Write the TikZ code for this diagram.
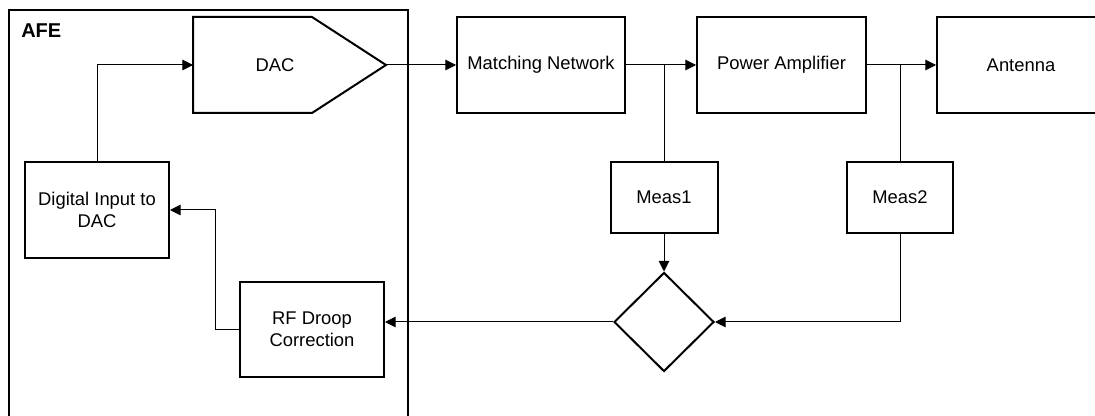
\documentclass[tikz,border=0pt]{standalone}
\usepackage{fontspec}
\setmainfont{Liberation Sans}
\usetikzlibrary{arrows.meta,shapes.geometric}

\begin{document}
\begin{tikzpicture}[
  x=0.75pt, y=-0.75pt,
  blk/.style={draw, line width=1.5pt, inner sep=0pt, align=center,
              font=\fontsize{13.8}{16.5}\selectfont},
  conn/.style={line width=0.75pt, -{Triangle[length=8pt,width=8pt]}},
  wire/.style={line width=0.75pt},
  lbl/.style={inner sep=0pt, font=\fontsize{13.8}{16.5}\selectfont}
]
\path[use as bounding box, clip] (0,0) rectangle (1095,416);

% AFE enclosure (open at the bottom edge)
\draw[line width=1.5pt] (9,430) -- (9,10) -- (408,10) -- (408,430);
\node[anchor=base west, inner sep=0pt, font=\fontsize{15}{18}\selectfont\bfseries]
  (afe) at (21,38) {AFE};

% DAC pentagon
\draw[line width=1.5pt, line join=miter]
  (193,17) -- (312,17) -- (386,65) -- (312,113) -- (193,113) -- cycle;
\node[lbl] (dac) at (275,65) {DAC};
\coordinate (dacin) at (193,65);
\coordinate (dacout) at (386,65);

% blocks
\node[blk, minimum width=108pt, minimum height=72pt] (digin) at (97,210)
  {Digital Input to\\DAC};
\node[blk, minimum width=108pt, minimum height=71.25pt] (rfd) at (312,329.5)
  {RF Droop\\Correction};
\node[blk, minimum width=126pt, minimum height=72pt] (match) at (541,65)
  {Matching Network};
\node[blk, minimum width=126.75pt, minimum height=72pt] (pa) at (781.5,65)
  {Power Amplifier};
\node[blk, minimum width=126pt, minimum height=72pt] (ant) at (1021,65)
  {Antenna};
\node[blk, minimum width=80.25pt, minimum height=53.25pt] (meas1) at (664,197.5)
  {Meas1};
\node[blk, minimum width=79.5pt, minimum height=53.25pt] (meas2) at (900,197.5)
  {Meas2};
\node[draw, diamond, line width=1.5pt, inner sep=0pt, minimum width=75pt,
      minimum height=74.25pt] (cmp) at (664,322) {};

% taps on the RF path
\coordinate (j1) at (664,65);
\coordinate (j2) at (900,65);

% connectors
\draw[conn] (digin.north) |- (dacin);
\draw[conn] (dacout) -- (match.west);
\draw[conn] (match.east) -- (pa.west);
\draw[conn] (pa.east) -- (ant.west);
\draw[wire] (j1) -- (meas1.north);
\draw[wire] (j2) -- (meas2.north);
\draw[conn] (meas1.south) -- (cmp.north);
\draw[conn] (meas2.south) |- (cmp.east);
\draw[conn] (cmp.west) -- (cmp.west -| rfd.east);
\draw[conn] (rfd.west) -- ++(-24,0) |- (digin.east);
\end{tikzpicture}
\end{document}
